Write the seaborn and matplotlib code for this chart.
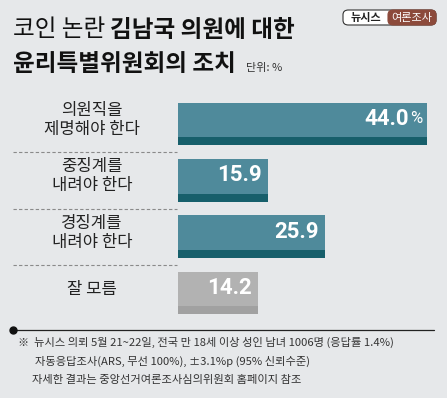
import matplotlib
matplotlib.use("Agg")
import matplotlib.pyplot as plt
import matplotlib.transforms as mtransforms
from matplotlib.lines import Line2D
from matplotlib.patches import FancyBboxPatch
import pandas as pd
import seaborn as sns

CATEGORIES = ["의원직을\n제명해야 한다", "중징계를\n내려야 한다", "경징계를\n내려야 한다", "잘 모름"]
VALUES = [44.0, 15.9, 25.9, 14.2]
VALUE_LABELS = ["44.0", "15.9", "25.9", "14.2"]
TITLE_LINE1_REG = "코인 논란 "
TITLE_LINE1_BOLD = "김남국 의원에 대한"
TITLE_LINE2 = "윤리특별위원회의 조치"
UNIT = "단위: %"
NOTES = [
    "※  뉴시스 의뢰 5월 21~22일, 전국 만 18세 이상 성인 남녀 1006명 (응답률 1.4%)",
    "자동응답조사(ARS, 무선 100%), ±3.1%p (95% 신뢰수준)",
    "자세한 결과는 중앙선거여론조사심의위원회 홈페이지 참조",
]

BG = "#e6e8ea"
TEAL = "#4f8a9b"
TEAL_DARK = "#175f6b"
GRAY = "#b2b2b2"
GRAY_DARK = "#a1a1a1"
NUM_FONT = ["Roboto", "DejaVu Sans"]

sns.set_theme(style="white")
plt.rcParams["font.family"] = ["Noto Sans CJK KR", "DejaVu Sans"]

W, H = 447, 398
fig = plt.figure(figsize=(W / 100, H / 100), dpi=100, facecolor=BG)

# bar axes: x=0 at 178px, 5.66 px per percent point
left_px, right_px = 178, 437
top_px, bottom_px = 95.8, 321.2
ax = fig.add_axes([left_px / W, 1 - bottom_px / H, (right_px - left_px) / W, (bottom_px - top_px) / H])
ax.set_facecolor(BG)

df = pd.DataFrame({"cat": CATEGORIES, "val": VALUES})
colors = [TEAL, TEAL, TEAL, GRAY]
darks = [TEAL_DARK, TEAL_DARK, TEAL_DARK, GRAY_DARK]
bar_h = 0.755
sns.barplot(data=df, x="val", y="cat", hue="cat", palette=colors, legend=False,
            width=bar_h, saturation=1, ax=ax, edgecolor="none")
strip = 0.142
for i, v in enumerate(VALUES):
    ax.barh(i + bar_h / 2 - strip / 2, v, height=strip, color=darks[i], edgecolor="none")

ax.set_xlim(0, (right_px - left_px) / 5.66)
ax.set_ylim(3.5, -0.5)
ax.axis("off")

# value labels inside bars
for i, (v, lab) in enumerate(zip(VALUES, VALUE_LABELS)):
    yc = i - strip / 2 - 0.02
    dx = -6
    if i == 0:
        pct = ax.annotate("%", (v, yc), xytext=(-5, 0), textcoords="offset pixels",
                          ha="right", va="center", color="white", fontsize=12,
                          family=NUM_FONT)
        fig.canvas.draw()
        pb = pct.get_window_extent()
        dx = -(5 + pb.width + 1)
    ax.annotate(lab, (v, yc), xytext=(dx, 0), textcoords="offset pixels",
                ha="right", va="center", color="white", fontsize=16, fontweight="bold",
                family=NUM_FONT)

# category labels and dashed separators
lab_tr = mtransforms.blended_transform_factory(fig.transFigure, ax.transData)
for i, c in enumerate(CATEGORIES):
    fig.text(92 / W, i - strip / 2, c, transform=lab_tr, ha="center", va="center",
             fontsize=12, color="#222222", linespacing=1.15)
for i in range(len(CATEGORIES) - 1):
    fig.add_artist(Line2D([13 / W, 177 / W], [i + 0.5, i + 0.5], transform=lab_tr,
                          color="#8a8a8a", lw=0.8, ls=(0, (3, 2))))

# title
t1 = fig.text(13 / W, 1 - 30 / H, TITLE_LINE1_REG, fontsize=17, color="#111111",
              va="center", ha="left")
fig.canvas.draw()
bb = t1.get_window_extent()
fig.text(bb.x1 / W, 1 - 30 / H, TITLE_LINE1_BOLD, fontsize=17, fontweight="bold",
         color="#111111", va="center", ha="left")
t2 = fig.text(13 / W, 1 - 64 / H, TITLE_LINE2, fontsize=17, fontweight="bold",
              color="#111111", va="center", ha="left")
fig.canvas.draw()
bb2 = t2.get_window_extent()
fig.text((bb2.x1 + 10) / W, 1 - 68 / H, UNIT, fontsize=8, color="#333333", va="center", ha="left")

# logo
fig.add_artist(FancyBboxPatch((343 / W, 1 - 25 / H), 93 / W, 15 / H,
                              boxstyle="round,pad=0,rounding_size=0.012",
                              transform=fig.transFigure, facecolor="white",
                              edgecolor="#333333", lw=0.8))
fig.add_artist(FancyBboxPatch((388 / W, 1 - 25 / H), 48 / W, 15 / H,
                              boxstyle="round,pad=0,rounding_size=0.012",
                              transform=fig.transFigure, facecolor="#8c4a3b",
                              edgecolor="#8c4a3b", lw=0.8))
fig.text(366 / W, 1 - 17.5 / H, "뉴시스", fontsize=8, fontweight="bold", color="#222222",
         ha="center", va="center")
fig.text(412 / W, 1 - 17.5 / H, "여론조사", fontsize=8, color="white", ha="center", va="center")

# footer
fig.add_artist(Line2D([13 / W, 434 / W], [1 - 330 / H, 1 - 330 / H], transform=fig.transFigure,
                      color="#222222", lw=0.9))
fig.add_artist(Line2D([13 / W], [1 - 330 / H], transform=fig.transFigure, marker="o",
                      markersize=5, color="#111111"))
note_x = [18, 35, 32]
note_y = [342, 361, 380]
for txt, nx, ny in zip(NOTES, note_x, note_y):
    fig.text(nx / W, 1 - ny / H, txt, fontsize=8.1, color="#333333", ha="left", va="center")

fig.savefig("out.png", dpi=100, facecolor=BG)
